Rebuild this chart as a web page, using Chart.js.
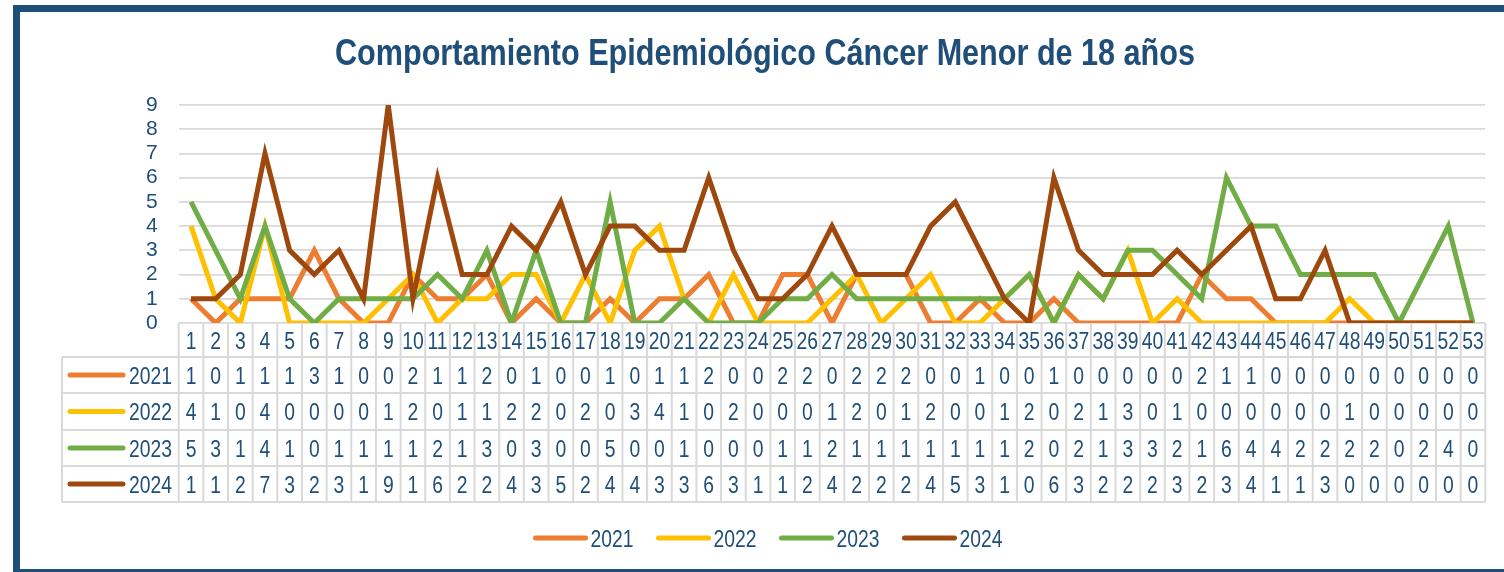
<!DOCTYPE html>
<html>
<head>
<meta charset="utf-8">
<script src="https://cdn.jsdelivr.net/npm/chart.js@4/dist/chart.umd.min.js"></script>
<style>
  html, body { margin: 0; padding: 0; background: #fff; overflow: hidden; }
  #wrap { position: relative; width: 1504px; height: 572px; }
  #frame { position: absolute; left: 13px; top: 5px; width: 1600px; height: 571px;
           border: 7px solid #1F4E79; box-sizing: border-box; background: #fff; }
  #chart { position: absolute; left: 0; top: 0; }
</style>
</head>
<body>
<div id="wrap">
  <div id="frame"></div>
  <canvas id="chart" width="1504" height="572"></canvas>
</div>
<script>
// Data
const weeks = Array.from({ length: 53 }, (_, i) => String(i + 1));
const years = ['2021', '2022', '2023', '2024'];
const cases2021 = [1,0,1,1,1,3,1,0,0,2,1,1,2,0,1,0,0,1,0,1,1,2,0,0,2,2,0,2,2,2,0,0,1,0,0,1,0,0,0,0,0,2,1,1,0,0,0,0,0,0,0,0,0];
const cases2022 = [4,1,0,4,0,0,0,0,1,2,0,1,1,2,2,0,2,0,3,4,1,0,2,0,0,0,1,2,0,1,2,0,0,1,2,0,2,1,3,0,1,0,0,0,0,0,0,1,0,0,0,0,0];
const cases2023 = [5,3,1,4,1,0,1,1,1,1,2,1,3,0,3,0,0,5,0,0,1,0,0,0,1,1,2,1,1,1,1,1,1,1,2,0,2,1,3,3,2,1,6,4,4,2,2,2,2,0,2,4,0];
const cases2024 = [1,1,2,7,3,2,3,1,9,1,6,2,2,4,3,5,2,4,4,3,3,6,3,1,1,2,4,2,2,2,4,5,3,1,0,6,3,2,2,2,3,2,3,4,1,1,3,0,0,0,0,0,0];
const titleText = 'Comportamiento Epidemiológico Cáncer Menor de 18 años';

const colors = ['#ED7D31', '#FFC000', '#70AD47', '#9E480E'];
const textColor = '#1F4E79';
const gridColor = '#D9D9D9';
const series = [cases2021, cases2022, cases2023, cases2024];
const narrow = '"Liberation Sans Narrow", "Liberation Sans", Arial, sans-serif';

// Draw text squeezed horizontally to mimic the condensed font
function drawText(ctx, text, x, y, font, align, sx) {
    ctx.save();
    ctx.font = font;
    ctx.textBaseline = 'alphabetic';
    const w = ctx.measureText(text).width * sx;
    let left = x;
    if (align === 'center') left = x - w / 2;
    else if (align === 'right') left = x - w;
    ctx.translate(left, y);
    ctx.scale(sx, 1);
    ctx.fillStyle = textColor;
    ctx.textAlign = 'left';
    ctx.fillText(text, 0, 0);
    ctx.restore();
    return w;
}

const tablePlugin = {
    id: 'dataTable',
    afterDraw(chart) {
        const ctx = chart.ctx;
        const xs = chart.scales.x;
        const area = chart.chartArea;
        const step = (area.right - area.left) / weeks.length;
        const rowTops = [323, 357, 393, 430, 466, 502];
        const tableLeft = 62;
        const font = '23px ' + narrow;
        const sx = 0.84;

        // Title
        const titleFont = 'bold 37px ' + narrow;
        ctx.save();
        ctx.font = titleFont;
        const tw = ctx.measureText(titleText).width;
        ctx.restore();
        drawText(ctx, titleText, 765, 65, titleFont, 'center', 860 / tw);

        // Grid of the table
        ctx.save();
        ctx.strokeStyle = gridColor;
        ctx.lineWidth = 2;
        ctx.beginPath();
        for (let i = 1; i < rowTops.length; i++) {
            ctx.moveTo(tableLeft, rowTops[i]);
            ctx.lineTo(area.right, rowTops[i]);
        }
        ctx.moveTo(tableLeft, rowTops[1]);
        ctx.lineTo(tableLeft, rowTops[5]);
        for (let i = 0; i <= weeks.length; i++) {
            const x = area.left + i * step;
            ctx.moveTo(x, rowTops[0]);
            ctx.lineTo(x, rowTops[5]);
        }
        ctx.stroke();
        ctx.restore();

        // Header row: week numbers
        weeks.forEach((w, i) => {
            drawText(ctx, w, xs.getPixelForValue(i), 349, font, 'center', sx);
        });

        // Series rows
        series.forEach((vals, r) => {
            const mid = (rowTops[r + 1] + rowTops[r + 2]) / 2;
            ctx.save();
            ctx.strokeStyle = colors[r];
            ctx.lineWidth = 5;
            ctx.lineCap = 'round';
            ctx.beginPath();
            ctx.moveTo(70, mid);
            ctx.lineTo(123, mid);
            ctx.stroke();
            ctx.restore();
            drawText(ctx, years[r], 172, mid + 8.5, font, 'right', sx);
            vals.forEach((v, i) => {
                drawText(ctx, String(v), xs.getPixelForValue(i), mid + 8.5, font, 'center', sx);
            });
        });

        // Bottom legend
        const swatch = 54, gap = 3, itemGap = 23;
        ctx.save();
        ctx.font = font;
        const widths = years.map(y => ctx.measureText(y).width * sx);
        ctx.restore();
        const total = widths.reduce((a, b) => a + b, 0) + years.length * (swatch + gap) + (years.length - 1) * itemGap;
        let lx = 768 - total / 2;
        const ly = 538;
        years.forEach((y, i) => {
            ctx.save();
            ctx.strokeStyle = colors[i];
            ctx.lineWidth = 5;
            ctx.lineCap = 'round';
            ctx.beginPath();
            ctx.moveTo(lx + 2, ly);
            ctx.lineTo(lx + swatch - 2, ly);
            ctx.stroke();
            ctx.restore();
            lx += swatch + gap;
            drawText(ctx, y, lx, ly + 8.5, font, 'left', sx);
            lx += widths[i] + itemGap;
        });
    }
};

new Chart(document.getElementById('chart'), {
    type: 'line',
    data: {
        labels: weeks,
        datasets: series.map((vals, i) => ({
            label: years[i],
            data: vals,
            borderColor: colors[i],
            backgroundColor: colors[i],
            borderWidth: 5,
            pointRadius: 0,
            tension: 0,
            order: series.length - i
        }))
    },
    options: {
        responsive: false,
        animation: false,
        devicePixelRatio: 1,
        layout: { padding: { top: 105, left: 0, right: 18.7, bottom: 249 } },
        plugins: {
            legend: { display: false },
            title: { display: false },
            tooltip: { enabled: false }
        },
        scales: {
            x: {
                display: false,
                offset: true
            },
            y: {
                min: 0,
                max: 9,
                afterFit(scale) { scale.width = 178.7; },
                border: { display: false },
                grid: { color: gridColor, lineWidth: 1.7, drawTicks: false },
                ticks: {
                    stepSize: 1,
                    autoSkip: false,
                    padding: 21,
                    color: textColor,
                    font: { family: narrow, size: 21 }
                }
            }
        }
    },
    plugins: [tablePlugin]
});
</script>
</body>
</html>
